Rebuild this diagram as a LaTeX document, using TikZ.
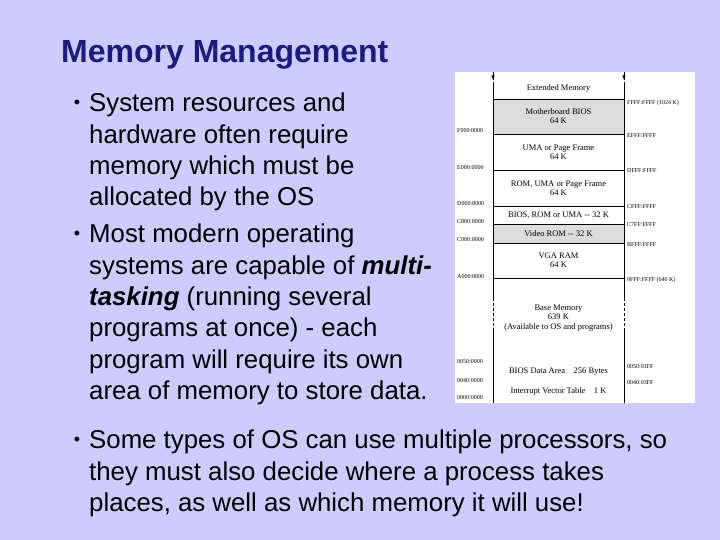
\documentclass[tikz,border=0pt]{standalone}
\usepackage{fontspec}
\setmainfont{Liberation Sans}
\newfontfamily\mapfont{Liberation Serif}
\definecolor{slidebg}{HTML}{CCCCFF}
\definecolor{titleblue}{HTML}{1A1A80}
\definecolor{bandgray}{HTML}{DCDCDC}
\begin{document}
\begin{tikzpicture}
[x=1pt,y=-1pt,
bodytext/.style={anchor=north west,inner sep=0pt,align=left,
  font=\fontsize{25.8}{31.3}\selectfont},
dot/.style={anchor=center,inner sep=0pt,font=\fontsize{18}{20}\selectfont},
band/.style={font=\mapfont\fontsize{8.5}{9.5}\selectfont,align=center,inner sep=0pt},
addr/.style={font=\mapfont\fontsize{6}{7}\selectfont,inner sep=0pt},
mapline/.style={draw=black,line width=0.8pt}]

\fill[slidebg] (0,0) rectangle (720,540);
\useasboundingbox (0,0) rectangle (720,540);

\node (title) [anchor=west,inner sep=0pt,text=titleblue,font=\fontsize{32}{36}\selectfont\bfseries] at (61,55) {Memory Management};

% bullets
\node (b1) [dot] at (77,104) {\textbullet};
\node (t1) [bodytext] at (89,93) {System resources and\\hardware often require\\memory which must be\\allocated by the OS};
\node (b2) [dot] at (77,235) {\textbullet};
\node (t2) [bodytext] at (89,224) {Most modern operating\\systems are capable of \textbf{\textit{multi-}}\\\textbf{\textit{tasking}} (running several\\programs at once) - each\\program will require its own\\area of memory to store data.};
\node (b3) [dot] at (77,441) {\textbullet};
\node (t3) [bodytext] at (89,430) {Some types of OS can use multiple processors, so\\they must also decide where a process takes\\places, as well as which memory it will use!};

% memory map
\fill[white] (455,72) rectangle (695,403);
\fill[bandgray] (493,99) rectangle (624,134);
\fill[bandgray] (493,224) rectangle (624,243);
\foreach \yy in {99,134,170,206,224,243,278}
  \draw[mapline] (493,\yy) -- (624,\yy);
\draw[mapline] (493,82) -- (493,298) (624,82) -- (624,298);
\draw[mapline] (493,330) -- (493,403) (624,330) -- (624,403);
\draw[mapline,densely dashed] (493,72) -- (493,82) (624,72) -- (624,82);
\draw[mapline,densely dashed] (493,298) -- (493,330) (624,298) -- (624,330);
\draw[-latex,line width=0.6pt] (493,74) -- (493,80);
\draw[-latex,line width=0.6pt] (624,74) -- (624,80);

\node (ext) [band] at (558.5,88) {Extended Memory};
\node (mbios) [band] at (558.5,116) {Motherboard BIOS\\64 K};
\node (uma) [band] at (558.5,152) {UMA or Page Frame\\64 K};
\node (rom) [band] at (558.5,188) {ROM, UMA or Page Frame\\64 K};
\node (bios) [band] at (558.5,215) {BIOS, ROM or UMA -- 32 K};
\node (vrom) [band] at (558.5,233.5) {Video ROM -- 32 K};
\node (vga) [band] at (558.5,260) {VGA RAM\\64 K};
\node (base) [band] at (558.5,318) {Base Memory\\639 K\\(Available to OS and programs)};
\node (bda) [band] at (558.5,372) {BIOS Data Area\quad 256 Bytes};
\node (ivt) [band] at (558.5,391) {Interrupt Vector Table\quad 1 K};

\foreach \lab/\yy in {F000:0000/131,E000:0000/168,D000:0000/204,C800:0000/222,
  C000:0000/240,A000:0000/277,0050:0000/362,0040:0000/381,0000:0000/398}
  \node [addr,anchor=west] at (457,\yy) {\lab};
\foreach \lab/\yy in {FFFF:FFFF (1024 K)/103,EFFF:FFFF/136,DFFF:FFFF/171,
  CFFF:FFFF/207,C7FF:FFFF/225,BFFF:FFFF/245,9FFF:FFFF (640 K)/280,
  0050:01FF/367,0040:03FF/383}
  \node [addr,anchor=west] at (627,\yy) {\lab};
\end{tikzpicture}
\end{document}
